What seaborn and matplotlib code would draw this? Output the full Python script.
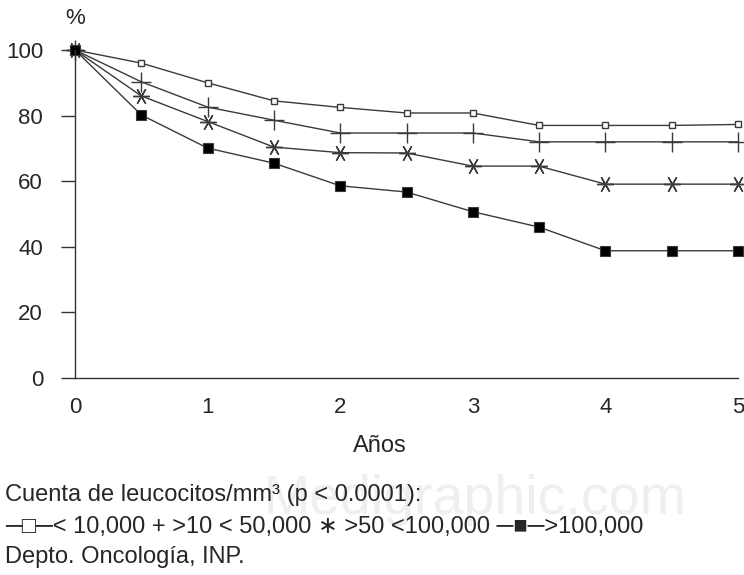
# Curvas de supervivencia por cuenta de leucocitos

import pandas as pd
import matplotlib
matplotlib.use("Agg")
import matplotlib.pyplot as plt
import seaborn as sns

# --- Datos ---
anios = [0, 0.5, 1, 1.5, 2, 2.5, 3, 3.5, 4, 4.5, 5]
menos_10000 = [100, 96, 90, 84.5, 82.5, 80.8, 80.8, 77, 77, 77, 77.3]
de_10_a_50 = [100, 90.3, 82.6, 78.6, 74.7, 74.7, 74.7, 72, 72, 72, 72]
de_50_a_100 = [100, 86, 78.2, 70.4, 68.7, 68.6, 64.6, 64.6, 59.1, 59.1, 59.1]
mas_100000 = [100, 80.2, 70.1, 65.5, 58.6, 56.7, 50.7, 46, 38.8, 38.8, 38.8]

y_ticks = [0, 20, 40, 60, 80, 100]
x_ticks = [0, 1, 2, 3, 4, 5]

series = {
    "<10,000": menos_10000,
    ">10<50,000": de_10_a_50,
    ">50<100,000": de_50_a_100,
    ">100,000": mas_100000,
}
df = pd.DataFrame([
    {"anio": a, "pct": v, "grupo": g}
    for g, vals in series.items() for a, v in zip(anios, vals)
])

sns.set_style("white")
plt.rcParams["font.family"] = ["Liberation Sans", "DejaVu Sans"]

fig = plt.figure(figsize=(7.44, 5.75), dpi=100)
ax = fig.add_axes([75 / 744, 1 - 378 / 575, 663 / 744, 328 / 575])

color = "#3a3a3a"
estilos = {
    "<10,000": dict(marker="s", markersize=4, markerfacecolor="white", markeredgewidth=1),
    ">10<50,000": dict(marker="+", markersize=14, markeredgewidth=1),
    ">50<100,000": dict(marker=(6, 2, 90), markersize=12, markeredgewidth=1),
    ">100,000": dict(marker="s", markersize=7, markerfacecolor="black", markeredgewidth=0.8),
}
for g in series:
    sub = df[df["grupo"] == g]
    sns.lineplot(data=sub, x="anio", y="pct", ax=ax, color=color, linewidth=1,
                 markeredgecolor=color, clip_on=False, **estilos[g])

ax.set_xlim(0, 5)
ax.set_ylim(0, 100)
ax.set_xticks(x_ticks)
ax.set_yticks(y_ticks)
ax.set_xticklabels([str(t) for t in x_ticks], fontsize=16)
ax.set_yticklabels([str(t) for t in y_ticks], fontsize=16)
ax.tick_params(axis="y", length=10, width=1, pad=13, color="#333333", direction="out", left=True)
ax.tick_params(axis="x", length=0, pad=14)
for s in ["top", "right"]:
    ax.spines[s].set_visible(False)
for s in ["left", "bottom"]:
    ax.spines[s].set_color("#333333")
    ax.spines[s].set_linewidth(1)

ax.set_xlabel("Años", fontsize=17)
ax.xaxis.set_label_coords((380 - 75) / 663, -57 / 328)
ax.set_ylabel("")
fig.text(75 / 744, 1 - 18 / 575, "%", fontsize=16, ha="center", va="center")

# marca de agua (muy tenue)
fig.text(475 / 744, 1 - 500 / 575, "Medigraphic.com", fontsize=40, color="#efefef",
         ha="center", va="center", zorder=0)

fig.text(5 / 744, 1 - 495 / 575, "Cuenta de leucocitos/mm³ (p < 0.0001):",
         fontsize=17, ha="left", va="center")
fig.text(5 / 744, 1 - 527 / 575, "─□─< 10,000 + >10 < 50,000 ∗ >50 <100,000 ─■─>100,000",
         fontsize=17, ha="left", va="center")
fig.text(5 / 744, 1 - 557 / 575, "Depto. Oncología, INP.",
         fontsize=17, ha="left", va="center")

fig.savefig("out.png", dpi=100)
